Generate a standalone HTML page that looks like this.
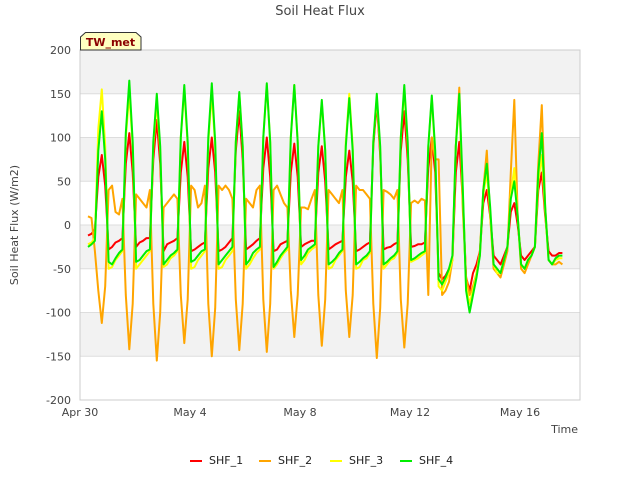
<!DOCTYPE html>
<html><head><meta charset="utf-8"><style>
body{margin:0;background:#fff;font-family:"Liberation Sans","DejaVu Sans",sans-serif}
svg text{font-family:"DejaVu Sans","Liberation Sans",sans-serif}
</style></head><body>
<svg id="chart" width="640" height="480" xmlns="http://www.w3.org/2000/svg">
<rect width="640" height="480" fill="#fff"/>
<text x="320" y="15" text-anchor="middle" font-size="13" fill="#444">Soil Heat Flux</text>
<g id="bands"></g>
<g id="grid"></g>
<rect x="80" y="50" width="500" height="350" fill="none" stroke="#ccc"/>
<g id="series"></g>
<g id="axes"></g>
<text transform="translate(18,225) rotate(-90)" text-anchor="middle" font-size="11" fill="#444">Soil Heat Flux (W/m2)</text>
<text x="578" y="433" text-anchor="end" font-size="11" fill="#444">Time</text>
<g>
<path d="M80.5,50 L80.5,37 L85.5,32.5 L136,32.5 L141,37 L141,50 Z" fill="#ffffc0" stroke="#333"/>
<text x="110.5" y="46" text-anchor="middle" font-size="11" font-weight="bold" fill="#8b0000">TW_met</text>
</g>
<g id="legend"></g>
</svg>
<script>
const yTicks=[-200,-150,-100,-50,0,50,100,150,200];
const xTickLabels=["Apr 30","May 4","May 8","May 12","May 16"];
const xTickDays=[0,4,8,12,16];
const seriesNames=["SHF_1","SHF_2","SHF_3","SHF_4"];
const seriesColors=["#ff0000","#ffa500","#ffff00","#00ee00"];
const startHour=7, stepHours=3;
const shf1=[-12,-10,-5,55,80,45,
-28,-25,-20,-18,-15,70,105,60,
-25,-20,-18,-15,-15,75,120,70,
-30,-22,-20,-18,-15,60,95,55,
-30,-28,-25,-22,-20,65,100,60,
-30,-28,-25,-20,-15,85,130,75,
-28,-25,-22,-18,-15,65,100,55,
-30,-28,-22,-20,-18,60,93,55,
-25,-22,-20,-18,-18,60,90,50,
-28,-25,-22,-20,-18,55,85,50,
-30,-28,-25,-22,-20,90,140,80,
-28,-26,-25,-22,-20,85,130,75,
-25,-24,-22,-22,-20,65,100,60,
-55,-62,-58,-50,-40,60,95,30,
-60,-75,-55,-45,-30,25,40,10,
-35,-40,-45,-35,-25,15,25,0,
-35,-40,-35,-30,-25,40,60,10,
-30,-35,-35,-32,-32];
const shf2=[10,8,-30,-75,-112,-70,
40,45,15,12,30,-80,-142,-90,
35,30,25,20,40,-90,-155,-100,
20,25,30,35,30,-80,-135,-85,
45,40,20,25,45,-90,-150,-95,
45,40,45,40,30,-85,-143,-90,
30,25,20,40,45,-85,-145,-90,
40,45,35,25,20,-75,-128,-80,
20,20,18,30,40,-80,-138,-85,
40,35,30,25,40,-75,-128,-80,
45,40,40,35,30,-90,-152,-95,
40,38,35,30,40,-85,-140,-90,
25,28,25,30,28,-80,100,75,
75,-80,-75,-65,-40,90,157,20,
-60,-80,-70,-55,-30,40,85,10,
-50,-55,-60,-45,-30,60,143,10,
-50,-55,-45,-35,-25,70,137,20,
-40,-45,-45,-42,-45];
const shf3=[-22,-20,-15,110,155,90,
-50,-48,-40,-35,-30,100,150,90,
-50,-45,-40,-35,-30,90,140,85,
-48,-45,-38,-35,-30,100,155,90,
-50,-48,-40,-35,-30,95,150,90,
-50,-48,-40,-35,-30,95,150,90,
-50,-45,-38,-32,-28,100,160,95,
-50,-45,-38,-32,-28,100,160,95,
-45,-40,-32,-28,-25,90,140,85,
-50,-48,-40,-35,-30,95,150,90,
-50,-48,-40,-38,-32,95,145,85,
-50,-45,-40,-38,-32,100,155,90,
-42,-40,-38,-35,-32,90,145,80,
-70,-75,-65,-55,-40,90,145,40,
-70,-90,-75,-55,-35,35,60,15,
-45,-55,-55,-40,-25,35,65,10,
-45,-50,-40,-35,-25,50,80,15,
-40,-45,-40,-38,-38];
const shf4=[-25,-22,-18,85,130,75,
-42,-45,-38,-32,-28,105,165,95,
-42,-40,-35,-30,-28,95,150,90,
-45,-40,-35,-32,-28,100,160,95,
-42,-40,-35,-30,-28,100,162,95,
-45,-40,-35,-30,-25,95,152,90,
-45,-40,-32,-28,-25,100,162,95,
-48,-42,-35,-30,-25,100,160,95,
-40,-35,-28,-25,-22,90,143,85,
-45,-42,-38,-32,-28,90,145,85,
-45,-42,-38,-35,-30,95,150,90,
-45,-42,-38,-35,-30,100,160,95,
-40,-38,-35,-32,-30,90,148,85,
-62,-68,-60,-50,-35,90,150,45,
-75,-100,-80,-60,-35,40,70,20,
-45,-50,-55,-40,-25,30,50,10,
-45,-50,-40,-35,-25,60,105,20,
-40,-45,-38,-35,-35];
const allSeries=[shf1,shf2,shf3,shf4];
const NS="http://www.w3.org/2000/svg";
const X0=80,W=500,Y0=50,H=350,DAYS=500/27.5;
function xScale(days){return X0+days/DAYS*W;}
function yScale(v){return Y0+(200-v)/400*H;}
function mk(tag,attrs,parent){const e=document.createElementNS(NS,tag);for(const k in attrs)e.setAttribute(k,attrs[k]);parent.appendChild(e);return e;}
const bands=document.getElementById('bands'),grid=document.getElementById('grid'),axes=document.getElementById('axes');
for(let i=0;i<yTicks.length-1;i++){
  const lo=yTicks[i],hi=yTicks[i+1];
  if(hi===200||hi===100||hi===0||hi===-100){
    const r=mk('rect',{x:X0,y:yScale(hi),width:W,height:yScale(lo)-yScale(hi),fill:'#f2f2f2'},bands);
    
    
  }
}
yTicks.forEach(v=>{
  const y=yScale(v);
  const l=mk('line',{x1:X0,x2:X0+W,y1:y,y2:y,stroke:'#ddd'},grid);
  
  
  const t=mk('text',{x:71,y:y+4,'text-anchor':'end','font-size':11,fill:'#444'},axes);
  t.textContent=v;
  
  
});
xTickDays.forEach((d,i)=>{
  const x=xScale(d);
  const t=mk('text',{x:x,y:416,'text-anchor':'middle','font-size':11,fill:'#444'},axes);
  t.textContent=xTickLabels[i];
  
  
});
const sg=document.getElementById('series');
allSeries.forEach((arr,si)=>{
  const pts=arr.map((v,i)=>xScale((startHour+i*stepHours)/24).toFixed(1)+','+yScale(v).toFixed(1)).join(' ');
  const p=mk('polyline',{points:pts,fill:'none',stroke:seriesColors[si],'stroke-width':2,'stroke-linejoin':'round'},sg);
  
  
});
const lg=document.getElementById('legend');
const lx=[190,259,330,400];
seriesNames.forEach((n,i)=>{
  const g=mk('g',{},lg);
  
  
  mk('line',{x1:lx[i],x2:lx[i]+12,y1:461,y2:461,stroke:seriesColors[i],'stroke-width':2},g);
  const t=mk('text',{x:lx[i]+19,y:464,'font-size':11,fill:'#222'},g);
  t.textContent=n;
});
</script>
</body></html>
